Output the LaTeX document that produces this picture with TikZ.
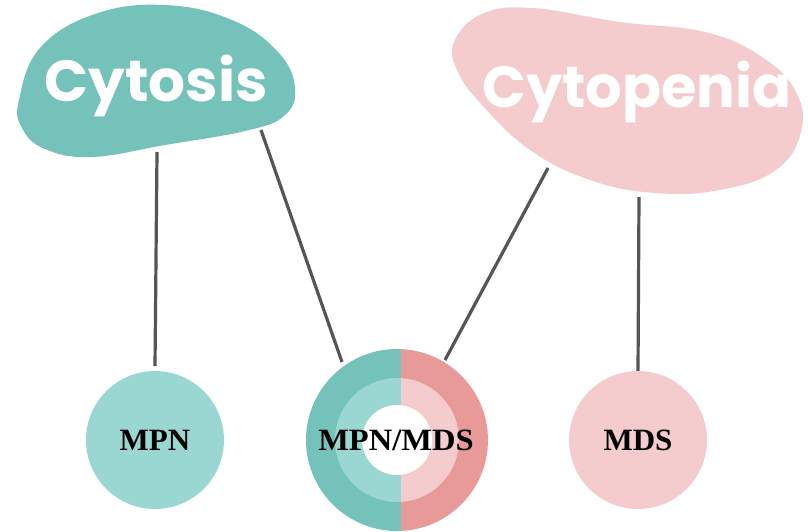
\documentclass[tikz,border=0pt]{standalone}
\usepackage{fontspec}
\newfontfamily\pop{Poppins}
\newfontfamily\lser{Liberation Serif}
\definecolor{tealD}{HTML}{74C2B9}
\definecolor{tealL}{HTML}{9BD7D2}
\definecolor{pinkD}{HTML}{E89A98}
\definecolor{pinkL}{HTML}{F4CCCD}
\definecolor{lineC}{HTML}{555555}
\tikzset{
  conn/.style={draw=lineC, line width=3.2pt},
  title/.style={text=white, font=\pop\bfseries\fontsize{58}{60}\selectfont, anchor=base, inner sep=0pt},
  lbl/.style={text=black, font=\lser\bfseries\fontsize{31}{33}\selectfont, inner sep=0pt},
  disc/.style={circle, inner sep=0pt, minimum size=138pt},
}
\begin{document}
\begin{tikzpicture}[x=1pt,y=-1pt]
\useasboundingbox (0,0) rectangle (808,531);
% blobs
\fill[tealD] plot[smooth cycle, tension=0.7] coordinates {(19,100) (40,48) (95,14) (165,5) (232,20) (278,52) (295,88) (284,116) (245,131) (165,145) (92,157) (45,149) (22,128)};
\fill[pinkL] plot[smooth cycle, tension=0.7] coordinates {(454,42) (482,14) (532,8) (620,22) (705,32) (762,57) (796,92) (801,132) (776,170) (720,190) (655,193) (590,180) (530,150) (482,105) (458,72)};
\node[title] (cytosis) at (156,101) {Cytosis};
\node[title, xscale=0.99] (cytopenia) at (637,107) {Cytopenia};
% connector end points
\coordinate (a1) at (157,152); \coordinate (a2) at (155,366);
\coordinate (b1) at (261,130); \coordinate (b2) at (342,362);
\coordinate (c1) at (548,168); \coordinate (c2) at (445,360);
\coordinate (d1) at (639,197); \coordinate (d2) at (638,371);
\draw[conn] (a1) -- (a2);
\draw[conn] (b1) -- (b2);
\draw[conn] (c1) -- (c2);
\draw[conn] (d1) -- (d2);
% circles
\node[disc, fill=tealL] (mpn) at (155,440) {};
\node[disc, fill=pinkL] (mds) at (638,440) {};
\coordinate (mc) at (397,440);
\begin{scope}
  \clip (250,340) rectangle (401,531);
  \fill[tealD] (mc) circle (91pt);
  \fill[tealL] (mc) circle (62pt);
\end{scope}
\begin{scope}
  \clip (401,340) rectangle (550,531);
  \fill[pinkD] (mc) circle (91pt);
  \fill[pinkL] (mc) circle (62pt);
\end{scope}
\fill[white] (mc) circle (35pt);
\node[lbl] (mpnt) at (155,440) {MPN};
\node[lbl] (mdst) at (638,440) {MDS};
\node[lbl, xscale=1.05] (mixt) at (396,440) {MPN/MDS};
\end{tikzpicture}
\end{document}
